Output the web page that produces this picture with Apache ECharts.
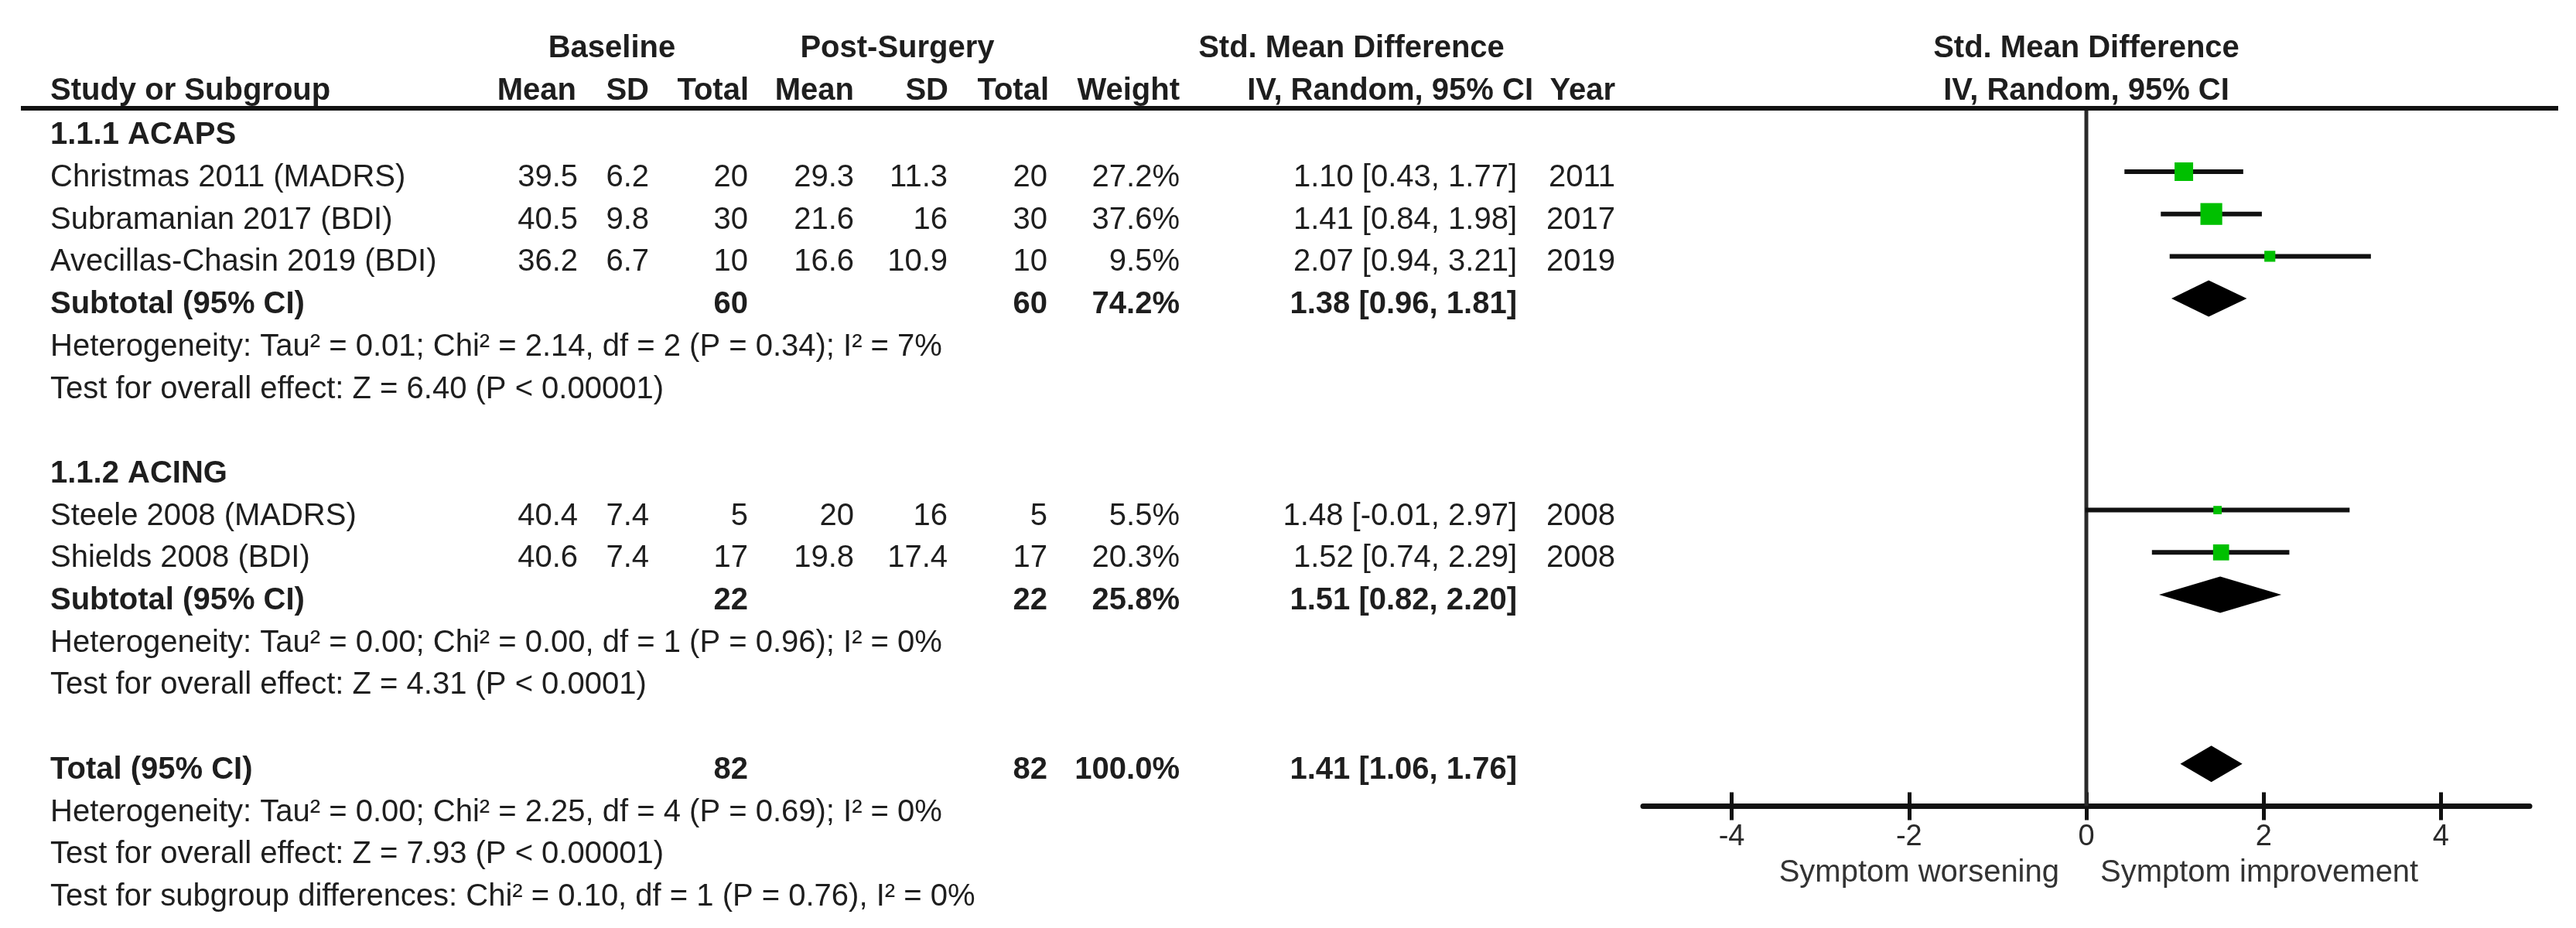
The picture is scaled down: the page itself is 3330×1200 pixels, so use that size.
<!DOCTYPE html>
<html>
<head>
<meta charset="utf-8">
<script src="https://cdn.jsdelivr.net/npm/echarts@6/dist/echarts.min.js"></script>
<style>html,body{margin:0;padding:0;background:#fff}#c{width:3330px;height:1200px}</style>
</head>
<body>
<div id="c"></div>
<script>
// ---------------- DATA ----------------
const groupNames = ['1.1.1 ACAPS', '1.1.2 ACING'];
const studies = ['Christmas 2011 (MADRS)', 'Subramanian 2017 (BDI)', 'Avecillas-Chasin 2019 (BDI)', 'Steele 2008 (MADRS)', 'Shields 2008 (BDI)'];
const studyGroup = [0, 0, 0, 1, 1];
const baseMean = [39.5, 40.5, 36.2, 40.4, 40.6];
const baseSD = [6.2, 9.8, 6.7, 7.4, 7.4];
const baseN = [20, 30, 10, 5, 17];
const postMean = [29.3, 21.6, 16.6, 20, 19.8];
const postSD = [11.3, 16, 10.9, 16, 17.4];
const postN = [20, 30, 10, 5, 17];
const weight = [27.2, 37.6, 9.5, 5.5, 20.3];
const smd = [1.10, 1.41, 2.07, 1.48, 1.52];
const ciLow = [0.43, 0.84, 0.94, -0.01, 0.74];
const ciHigh = [1.77, 1.98, 3.21, 2.97, 2.29];
const year = [2011, 2017, 2019, 2008, 2008];

const subBaseN = [60, 22];
const subPostN = [60, 22];
const subWeight = [74.2, 25.8];
const subSmd = [1.38, 1.51];
const subLow = [0.96, 0.82];
const subHigh = [1.81, 2.20];
const subTau2 = ['0.01', '0.00'];
const subChi2 = ['2.14', '0.00'];
const subDf = [2, 1];
const subP = ['0.34', '0.96'];
const subI2 = [7, 0];
const subZ = ['6.40', '4.31'];
const subPz = ['0.00001', '0.0001'];

const totBaseN = 82, totPostN = 82, totWeight = 100.0;
const totSmd = 1.41, totLow = 1.06, totHigh = 1.76;
const totTau2 = '0.00', totChi2 = '2.25', totDf = 4, totP = '0.69', totI2 = 0;
const totZ = '7.93', totPz = '0.00001';
const sgChi2 = '0.10', sgDf = 1, sgP = '0.76', sgI2 = 0;

const axisTicks = [-4, -2, 0, 2, 4];
const axisMin = -5, axisMax = 5;
const leftCaption = 'Symptom worsening';
const rightCaption = 'Symptom improvement';

// ---------------- LAYOUT ----------------
const FONT = '"Liberation Sans", Arial, Helvetica, sans-serif';
const FS = 40;
const TXT = '#1e1e1e';
const col = {
  study: [65, 'left'], bMean: [747, 'right'], bSD: [839, 'right'], bN: [967, 'right'],
  pMean: [1104, 'right'], pSD: [1225, 'right'], pN: [1354, 'right'], w: [1525, 'right'],
  ci: [1961, 'right'], year: [2088, 'right']
};
const cells = [];
function add(x, align, row, text, bold, dy) {
  cells.push({x: x, align: align, row: row, text: String(text), bold: !!bold, dy: dy === undefined ? 8 : dy});
}
function addc(c, row, text, bold) { add(col[c][0], col[c][1], row, text, bold); }
const f2 = v => v.toFixed(2);
const ciTxt = (e, l, h) => f2(e) + ' [' + f2(l) + ', ' + f2(h) + ']';

// headers
add(791, 'center', -2, 'Baseline', true, 5);
add(1160, 'center', -2, 'Post-Surgery', true, 5);
add(1747, 'center', -2, 'Std. Mean Difference', true, 5);
add(2697, 'center', -2, 'Std. Mean Difference', true, 5);
add(65, 'left', -1, 'Study or Subgroup', true, 5);
add(745, 'right', -1, 'Mean', true, 5);
add(839, 'right', -1, 'SD', true, 5);
add(968, 'right', -1, 'Total', true, 5);
add(1104, 'right', -1, 'Mean', true, 5);
add(1226, 'right', -1, 'SD', true, 5);
add(1356, 'right', -1, 'Total', true, 5);
add(1525, 'right', -1, 'Weight', true, 5);
add(1982, 'right', -1, 'IV, Random, 95% CI', true, 5);
add(2088, 'right', -1, 'Year', true, 5);
add(2697, 'center', -1, 'IV, Random, 95% CI', true, 5);

const studyPts = [];
const diamondPts = [];
let r = 0;
groupNames.forEach((g, gi) => {
  addc('study', r, g, true); r++;
  studies.forEach((s, i) => {
    if (studyGroup[i] !== gi) return;
    addc('study', r, s);
    addc('bMean', r, baseMean[i]); addc('bSD', r, baseSD[i]); addc('bN', r, baseN[i]);
    addc('pMean', r, postMean[i]); addc('pSD', r, postSD[i]); addc('pN', r, postN[i]);
    addc('w', r, weight[i].toFixed(1) + '%');
    addc('ci', r, ciTxt(smd[i], ciLow[i], ciHigh[i]));
    addc('year', r, year[i]);
    studyPts.push([smd[i], r, ciLow[i], ciHigh[i], weight[i]]);
    r++;
  });
  addc('study', r, 'Subtotal (95% CI)', true);
  addc('bN', r, subBaseN[gi], true); addc('pN', r, subPostN[gi], true);
  addc('w', r, subWeight[gi].toFixed(1) + '%', true);
  addc('ci', r, ciTxt(subSmd[gi], subLow[gi], subHigh[gi]), true);
  diamondPts.push([subSmd[gi], r, subLow[gi], subHigh[gi]]);
  r++;
  addc('study', r, 'Heterogeneity: Tau² = ' + subTau2[gi] + '; Chi² = ' + subChi2[gi] + ', df = ' + subDf[gi] + ' (P = ' + subP[gi] + '); I² = ' + subI2[gi] + '%'); r++;
  addc('study', r, 'Test for overall effect: Z = ' + subZ[gi] + ' (P < ' + subPz[gi] + ')'); r++;
  r++; // blank row
});
addc('study', r, 'Total (95% CI)', true);
addc('bN', r, totBaseN, true); addc('pN', r, totPostN, true);
addc('w', r, totWeight.toFixed(1) + '%', true);
addc('ci', r, ciTxt(totSmd, totLow, totHigh), true);
diamondPts.push([totSmd, r, totLow, totHigh]);
r++;
addc('study', r, 'Heterogeneity: Tau² = ' + totTau2 + '; Chi² = ' + totChi2 + ', df = ' + totDf + ' (P = ' + totP + '); I² = ' + totI2 + '%'); r++;
addc('study', r, 'Test for overall effect: Z = ' + totZ + ' (P < ' + totPz + ')'); r++;
addc('study', r, 'Test for subgroup differences: Chi² = ' + sgChi2 + ', df = ' + sgDf + ' (P = ' + sgP + '), I² = ' + sgI2 + '%'); r++;

// pixel geometry of rows: row k centre = 167.3 + 54.7*k
const ROW = 54.7, ROW0 = 167.3;
const tableTop = ROW0 - 2.5 * ROW, tableH = 21 * ROW;
const forestTop = ROW0 - 0.5 * ROW, forestH = 16.5 * ROW;
const forestLeft = 2124, forestW = 1146;

const chart = echarts.init(document.getElementById('c'), null, {renderer: 'canvas'});
const gridBase = {outerBoundsMode: 'none', containLabel: false};
chart.setOption({
  backgroundColor: '#fff',
  animation: false,
  grid: [
    Object.assign({left: 0, width: 3330, top: tableTop, height: tableH}, gridBase),
    Object.assign({left: forestLeft, width: forestW, top: forestTop, height: forestH}, gridBase),
    Object.assign({left: forestLeft, width: forestW, top: forestTop, height: forestH}, gridBase)
  ],
  xAxis: [
    {gridIndex: 0, type: 'value', min: 0, max: 3330, show: false},
    {gridIndex: 1, type: 'value', min: axisMin, max: axisMax, position: 'bottom',
      axisLine: {show: true, onZero: false, lineStyle: {color: '#111', width: 7}},
      axisTick: {show: true, inside: false, length: 18, customValues: axisTicks, lineStyle: {color: '#111', width: 5}},
      axisLabel: {show: true, customValues: axisTicks, margin: 21, fontSize: 38, color: '#2a2a2a', fontFamily: FONT},
      splitLine: {show: false}},
    {gridIndex: 2, type: 'value', min: axisMin, max: axisMax, position: 'bottom',
      axisLine: {show: false, onZero: false},
      axisTick: {show: true, inside: true, length: 18, customValues: axisTicks, lineStyle: {color: '#111', width: 5}},
      axisLabel: {show: false}, splitLine: {show: false}}
  ],
  yAxis: [
    {gridIndex: 0, type: 'value', inverse: true, min: -2.5, max: 18.5, show: false},
    {gridIndex: 1, type: 'value', inverse: true, min: -0.5, max: 16, show: false},
    {gridIndex: 2, type: 'value', inverse: true, min: -0.5, max: 16, show: false}
  ],
  graphic: [
    {type: 'line', shape: {x1: 27, y1: forestTop, x2: 3307, y2: forestTop}, style: {stroke: '#111', lineWidth: 6}, z: 10},
    {type: 'text', x: 2662, y: 1129, style: {text: leftCaption, font: FS + 'px ' + FONT, fill: '#333', align: 'right', verticalAlign: 'middle', textAlign: 'right', textVerticalAlign: 'middle'}},
    {type: 'text', x: 2715, y: 1129, style: {text: rightCaption, font: FS + 'px ' + FONT, fill: '#333', align: 'left', verticalAlign: 'middle', textAlign: 'left', textVerticalAlign: 'middle'}}
  ],
  series: [
    {
      type: 'custom', name: 'table', xAxisIndex: 0, yAxisIndex: 0, silent: true, clip: false,
      data: cells.map(c => [c.x, c.row]),
      encode: {x: 0, y: 1},
      renderItem: function (params, api) {
        const c = cells[params.dataIndex];
        const p = api.coord([api.value(0), api.value(1)]);
        return {
          type: 'text', x: p[0], y: p[1] + c.dy,
          style: {
            text: c.text, font: (c.bold ? 'bold ' : '') + FS + 'px ' + FONT, fill: TXT,
            align: c.align, verticalAlign: 'middle', textAlign: c.align, textVerticalAlign: 'middle'
          }
        };
      }
    },
    {
      type: 'line', name: 'zero', xAxisIndex: 1, yAxisIndex: 1, silent: true,
      data: [[0, -0.5], [0, 16]], symbol: 'none',
      lineStyle: {color: '#2a2a2a', width: 5}, z: 1
    },
    {
      type: 'custom', name: 'studies', xAxisIndex: 1, yAxisIndex: 1, silent: true, clip: false, z: 3,
      data: studyPts,
      encode: {x: 0, y: 1},
      renderItem: function (params, api) {
        const est = api.value(0), row = api.value(1), lo = api.value(2), hi = api.value(3), w = api.value(4);
        const pLo = api.coord([lo, row]), pHi = api.coord([hi, row]), pE = api.coord([est, row]);
        const s = 4.6 * Math.sqrt(w);
        return {
          type: 'group', children: [
            {type: 'line', shape: {x1: pLo[0], y1: pLo[1], x2: pHi[0], y2: pHi[1]}, style: {stroke: '#111', lineWidth: 6}},
            {type: 'rect', shape: {x: pE[0] - s / 2, y: pE[1] - s / 2, width: s, height: s}, style: {fill: '#00c000'}}
          ]
        };
      }
    },
    {
      type: 'custom', name: 'pooled', xAxisIndex: 1, yAxisIndex: 1, silent: true, clip: false, z: 3,
      data: diamondPts,
      encode: {x: 0, y: 1},
      renderItem: function (params, api) {
        const est = api.value(0), row = api.value(1), lo = api.value(2), hi = api.value(3);
        const pLo = api.coord([lo, row]), pHi = api.coord([hi, row]), pE = api.coord([est, row]);
        const h = 23.5;
        return {
          type: 'polygon',
          shape: {points: [[pLo[0], pLo[1]], [pE[0], pE[1] - h], [pHi[0], pHi[1]], [pE[0], pE[1] + h]]},
          style: {fill: '#000'}
        };
      }
    }
  ]
});
</script>
</body>
</html>
